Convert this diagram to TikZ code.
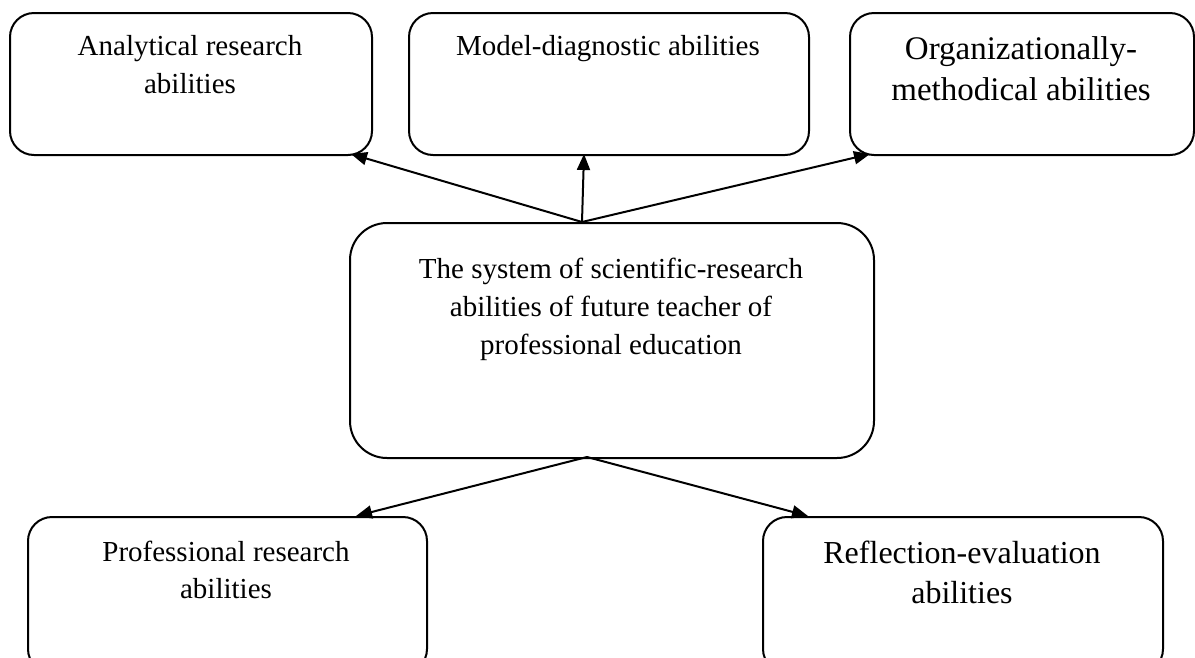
\documentclass[tikz,border=0pt]{standalone}
\usepackage{fontspec}
\setmainfont{Liberation Serif}
\usetikzlibrary{arrows.meta}
\begin{document}
\begin{tikzpicture}[x=1pt,y=-1pt,
  box/.style={draw, line width=2pt, rounded corners=24pt, inner sep=0pt, anchor=north west},
  cbox/.style={box, rounded corners=37pt},
  lbl/.style={align=center, inner sep=0pt, anchor=base, font=\fontsize{29}{38}\selectfont},
  lblbig/.style={lbl, font=\fontsize{33}{41}\selectfont},
  lblmid/.style={lbl, font=\fontsize{32}{40}\selectfont},
  arr/.style={line width=2pt, -{Triangle[length=16pt,width=13pt]}}]
\useasboundingbox (0,0) rectangle (1195,657);
\clip (0,0) rectangle (1195,657);
% boxes
\node[box, minimum width=362pt, minimum height=142pt] (A) at (9,12) {};
\node[box, minimum width=400pt, minimum height=142pt] (M) at (408,12) {};
\node[box, minimum width=344pt, minimum height=142pt] (O) at (849,12) {};
\node[cbox, minimum width=524pt, minimum height=235pt] (C) at (349,222) {};
\node[box, minimum width=399pt, minimum height=156pt] (P) at (27,516) {};
\node[box, minimum width=400pt, minimum height=156pt] (R) at (762,516) {};
% labels (anchor base = baseline of the last line)
\node[lbl] (tA) at (190,93) {Analytical research\\abilities};
\node[lbl] (tM) at (608,55) {Model-diagnostic abilities};
\node[lblbig] (tO) at (1021,100) {Organizationally-\\methodical abilities};
\node[lbl] (tC) at (611,354) {The system of scientific-research\\abilities of future teacher of\\professional education};
\node[lbl, font=\fontsize{29}{36.5}\selectfont] (tP) at (226,598) {Professional research\\abilities};
\node[lblmid] (tR) at (962,603) {Reflection-evaluation\\abilities};
% connector points
\coordinate (ct) at (582,222);
\coordinate (cb) at (587,457);
\coordinate (pA) at (351,154);
\coordinate (pM) at (584,154);
\coordinate (pO) at (870,154);
\coordinate (pP) at (356,516);
\coordinate (pR) at (808,516);
\draw[arr] (ct) -- (pA);
\draw[arr] (ct) -- (pM);
\draw[arr] (ct) -- (pO);
\draw[arr] (cb) -- (pP);
\draw[arr] (cb) -- (pR);
\end{tikzpicture}
\end{document}
